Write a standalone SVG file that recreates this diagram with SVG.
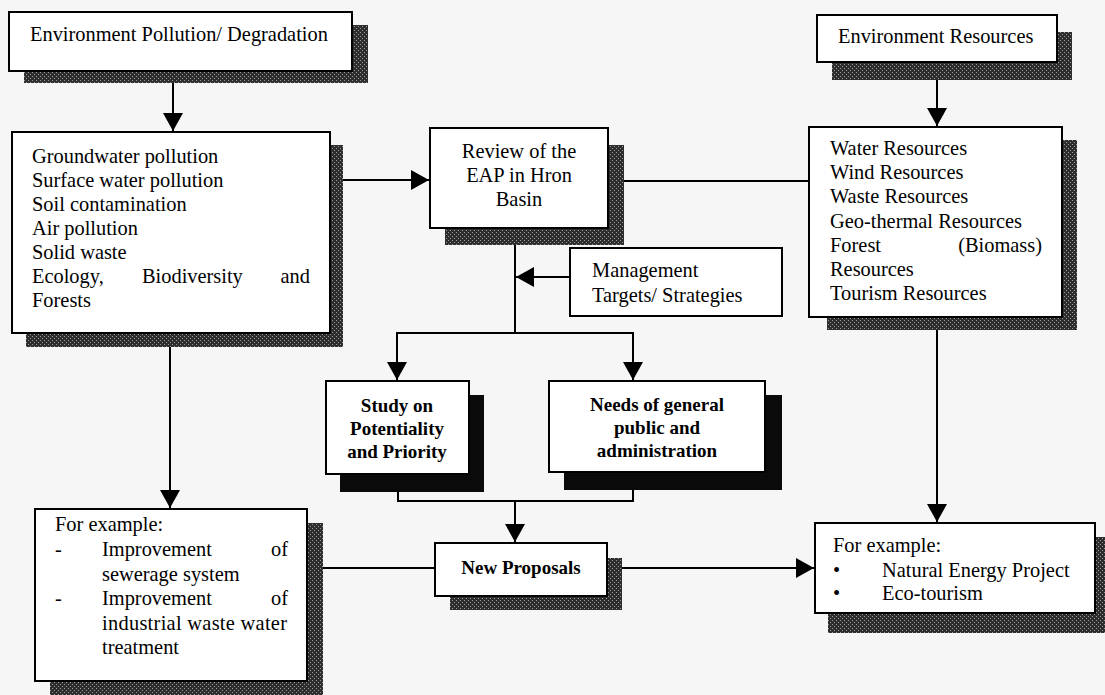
<svg xmlns="http://www.w3.org/2000/svg" width="1105" height="695" viewBox="0 0 1105 695">
  <defs>
    <!-- dithered drop-shadow fill -->
    <pattern id="shade" width="4" height="4" patternUnits="userSpaceOnUse">
      <rect width="4" height="4" fill="#2e2e2e"/>
      <rect x="0" y="0" width="1" height="1" fill="#9a9a9a"/>
      <rect x="2" y="2" width="1" height="1" fill="#9a9a9a"/>
    </pattern>
    <marker id="arrow" markerUnits="userSpaceOnUse" markerWidth="18" markerHeight="20" refX="18" refY="10" orient="auto">
      <path d="M0,0 L18,10 L0,20 Z" fill="#000"/>
    </marker>
    <style>
      .box { fill: #fff; stroke: #000; stroke-width: 2; }
      .shadow { fill: url(#shade); }
      .shadow-dark { fill: #0a0a0a; }
      .t { font-family: "Liberation Serif", "Times New Roman", serif; font-size: 20.4px; fill: #000; }
      .c { text-anchor: middle; }
      .b { font-weight: bold; font-size: 19px; }
      .edge { fill: none; stroke: #000; stroke-width: 2; }
      .arr { marker-end: url(#arrow); }
    </style>
  </defs>

  <rect width="1105" height="695" fill="#f6f6f6"/>

  <!-- connectors -->
  <g id="connectors">
    <path class="edge arr" d="M173,83 L173,131"/>
    <path class="edge arr" d="M343,180 L429,180"/>
    <path class="edge" d="M624,181 L809,181"/>
    <path class="edge arr" d="M937,80 L937,126"/>
    <path class="edge" d="M515,245 L515,333"/>
    <path class="edge" d="M397,333 L633,333"/>
    <path class="edge arr" d="M397,332 L397,380"/>
    <path class="edge arr" d="M633,332 L633,380"/>
    <path class="edge arr" d="M570,277 L516,277"/>
    <path class="edge arr" d="M170,347 L170,508"/>
    <path class="edge arr" d="M937,330 L937,522"/>
    <path class="edge" d="M398,492 L398,501 L633,501 L633,490"/>
    <path class="edge arr" d="M515,501 L515,542"/>
    <path class="edge" d="M323,568 L435,568"/>
    <path class="edge arr" d="M622,568 L814,568"/>
  </g>

  <g id="env-pollution">
    <rect class="shadow" x="24" y="25" width="344" height="58"/>
    <rect class="box" x="9" y="12" width="343" height="59"/>
    <text class="t" x="30" y="41">Environment Pollution/ Degradation</text>
  </g>

  <g id="pollution-list">
    <rect class="shadow" x="26" y="145" width="317" height="202"/>
    <rect class="box" x="12" y="132" width="318" height="201"/>
    <text class="t" x="32" y="163">Groundwater pollution</text>
    <text class="t" x="32" y="187">Surface water pollution</text>
    <text class="t" x="32" y="211">Soil contamination</text>
    <text class="t" x="32" y="235">Air pollution</text>
    <text class="t" x="32" y="259">Solid waste</text>
    <text class="t" y="283"><tspan x="32">Ecology,</tspan><tspan x="142">Biodiversity</tspan></text>
    <text class="t" x="310" y="283" text-anchor="end">and</text>
    <text class="t" x="32" y="307">Forests</text>
  </g>

  <g id="review">
    <rect class="shadow" x="445" y="145" width="179" height="100"/>
    <rect class="box" x="430" y="128" width="178" height="100"/>
    <text class="t c" x="519" y="158">Review of the</text>
    <text class="t c" x="519" y="182">EAP in Hron</text>
    <text class="t c" x="519" y="206">Basin</text>
  </g>

  <g id="env-resources">
    <rect class="shadow" x="832" y="32" width="240" height="48"/>
    <rect class="box" x="817" y="15" width="240" height="47"/>
    <text class="t" x="838" y="43">Environment Resources</text>
  </g>

  <g id="resource-list">
    <rect class="shadow" x="827" y="140" width="250" height="190"/>
    <rect class="box" x="809" y="127" width="253" height="190"/>
    <text class="t" x="830" y="155">Water Resources</text>
    <text class="t" x="830" y="179">Wind Resources</text>
    <text class="t" x="830" y="203">Waste Resources</text>
    <text class="t" x="830" y="228">Geo-thermal Resources</text>
    <text class="t" x="830" y="252">Forest</text>
    <text class="t" x="1042" y="252" text-anchor="end">(Biomass)</text>
    <text class="t" x="830" y="276">Resources</text>
    <text class="t" x="830" y="300">Tourism Resources</text>
  </g>

  <g id="management">
    <rect class="box" x="570" y="248" width="212" height="68"/>
    <text class="t" x="592" y="277">Management</text>
    <text class="t" x="592" y="302">Targets/ Strategies</text>
  </g>

  <g id="study">
    <rect class="shadow-dark" x="340" y="395" width="144" height="97"/>
    <rect class="box" x="326" y="381" width="143" height="93"/>
    <text class="t c b" x="397" y="412">Study on</text>
    <text class="t c b" x="397" y="435">Potentiality</text>
    <text class="t c b" x="397" y="458">and Priority</text>
  </g>

  <g id="needs">
    <rect class="shadow-dark" x="564" y="395" width="218" height="95"/>
    <rect class="box" x="549" y="381" width="216" height="91"/>
    <text class="t c b" x="657" y="411">Needs of general</text>
    <text class="t c b" x="657" y="434">public and</text>
    <text class="t c b" x="657" y="457">administration</text>
  </g>

  <g id="new-proposals">
    <rect class="shadow" x="450" y="558" width="172" height="52"/>
    <rect class="box" x="435" y="543" width="172" height="53"/>
    <text class="t c b" x="521" y="574">New Proposals</text>
  </g>

  <g id="example-pollution">
    <rect class="shadow" x="50" y="523" width="273" height="172"/>
    <rect class="box" x="35" y="509" width="272" height="172"/>
    <text class="t" x="55" y="531">For example:</text>
    <text class="t" x="55" y="556">-</text>
    <text class="t" x="102" y="556">Improvement</text>
    <text class="t" x="288" y="556" text-anchor="end">of</text>
    <text class="t" x="102" y="581">sewerage system</text>
    <text class="t" x="55" y="605">-</text>
    <text class="t" x="102" y="605">Improvement</text>
    <text class="t" x="288" y="605" text-anchor="end">of</text>
    <text class="t" x="102" y="630" textLength="185">industrial waste water</text>
    <text class="t" x="102" y="654">treatment</text>
  </g>

  <g id="example-resources">
    <rect class="shadow" x="828" y="537" width="277" height="96"/>
    <rect class="box" x="815" y="523" width="280" height="90"/>
    <text class="t" x="833" y="552">For example:</text>
    <text class="t" x="833" y="577" font-size="14">•</text>
    <text class="t" x="882" y="577">Natural Energy Project</text>
    <text class="t" x="833" y="600" font-size="14">•</text>
    <text class="t" x="882" y="600">Eco-tourism</text>
  </g>
</svg>
